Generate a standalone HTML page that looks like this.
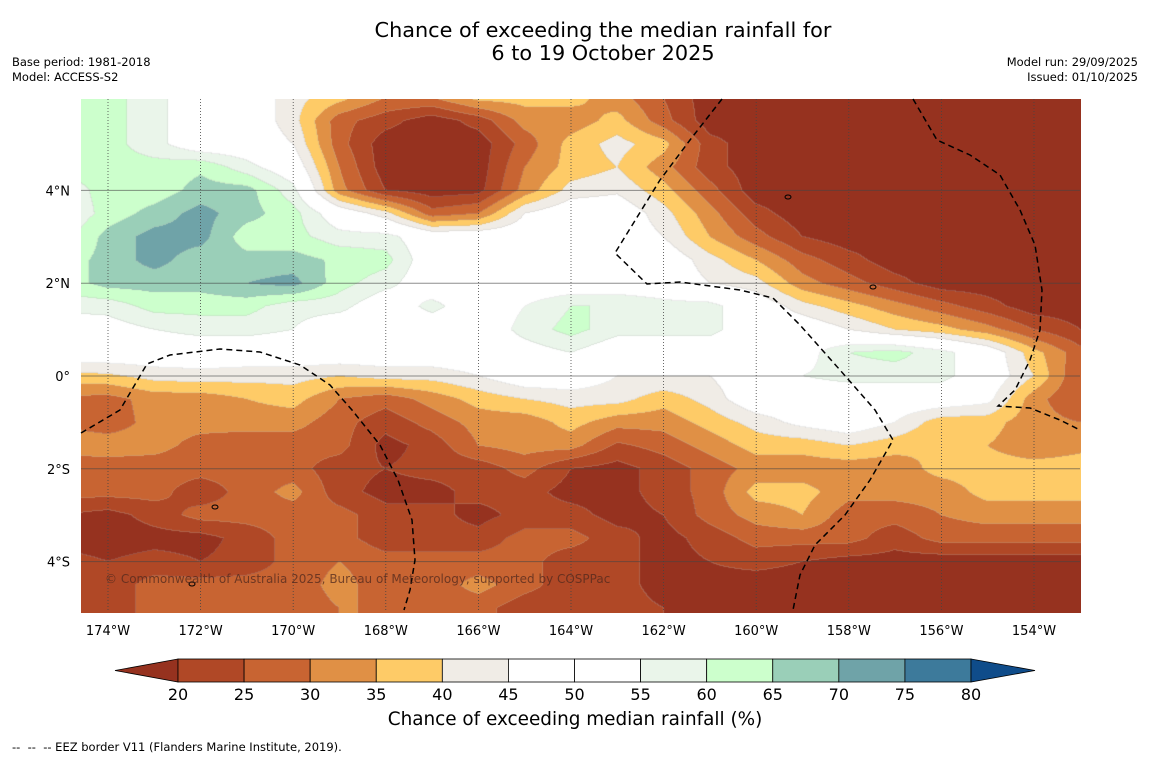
<!DOCTYPE html>
<html><head><meta charset="utf-8">
<style>
body{margin:0;background:#fff;}
#wrap{position:relative;width:1150px;height:758px;background:#fff;overflow:hidden;font-family:"DejaVu Sans","Liberation Sans",sans-serif;color:#000;}
.t{position:absolute;white-space:nowrap;}
</style></head><body>
<div id="wrap">
<div class="t" style="left:0;width:1206px;text-align:center;top:19px;font-size:20.8px;line-height:23px;">Chance of exceeding the median rainfall for<br>6 to 19 October 2025</div>
<div class="t" style="left:12px;top:55px;font-size:11.5px;line-height:15px;">Base period: 1981-2018<br>Model: ACCESS-S2</div>
<div class="t" style="right:12px;top:55px;font-size:11.5px;line-height:15px;text-align:right;">Model run: 29/09/2025<br>Issued: 01/10/2025</div>
<canvas id="map" width="1000" height="514" style="position:absolute;left:81px;top:99px;"></canvas>
<svg id="ov" width="1150" height="758" style="position:absolute;left:0;top:0;"></svg>
<div class="t" style="left:105px;top:572px;font-size:12px;color:rgba(80,40,30,0.75);">© Commonwealth of Australia 2025, Bureau of Meteorology, supported by COSPPac</div>
<div class="t" style="left:0;width:1150px;text-align:center;top:709px;font-size:18.4px;">Chance of exceeding median rainfall (%)</div>
<div class="t" style="left:12px;top:740px;font-size:11.5px;">-- &nbsp;-- &nbsp;-- EEZ border V11 (Flanders Marine Institute, 2019).</div>
</div>
<script>
// Grid data: longitudes, latitudes, values (% chance), per latitude row
const lons = [-175,-174,-173,-172,-171,-170,-169,-168,-167,-166,-165,-164,-163,-162,-161,-160,-159,-158,-157,-156,-155,-154,-153];
const lats = [6,5.5,5,4.5,4,3.5,3,2.5,2,1.5,1,0.5,0,-0.5,-1,-1.5,-2,-2.5,-3,-3.5,-4,-4.5,-5];
const row6n0  = [62,62,57,50,50,42,37,30,30,37,37,37,32,25,17,17,17,17,17,17,17,17,17];
const row5n5  = [62,62,57,50,50,42,27,22,17,22,32,32,37,27,17,17,17,17,17,17,17,17,17];
const row5n0  = [62,62,57,50,50,45,27,17,17,17,27,37,42,37,22,17,17,17,17,17,17,17,17];
const row4n5  = [62,62,62,64,57,50,30,17,17,17,30,37,40,32,22,17,17,17,17,17,17,17,17];
const row4n0  = [57,62,62,67,67,57,32,20,17,18,32,42,44,37,27,17,17,17,17,17,17,17,17];
const row3n5  = [55,62,67,72,67,62,50,42,27,30,45,50,50,42,32,22,17,17,17,17,17,17,17];
const row3n0  = [57,67,72,72,62,62,57,57,50,50,50,50,50,45,35,27,20,17,17,17,17,17,17];
const row2n5  = [62,67,72,67,67,67,64,62,50,50,50,50,50,50,42,35,27,22,17,17,17,17,17];
const row2n0  = [62,67,67,67,70,72,62,57,50,50,50,50,50,50,45,42,32,27,22,17,17,17,17];
const row1n5  = [57,57,62,62,62,57,57,50,57,50,55,60,60,57,57,50,42,37,32,27,22,17,17];
const row1n0  = [50,52,55,57,57,55,50,50,50,50,57,62,57,57,57,50,50,45,40,37,32,25,20];
const row0n5  = [50,50,50,50,50,50,50,50,50,50,52,55,50,50,50,50,52,60,62,57,50,37,27];
const row0    = [38,39,42,43,42,42,40,42,42,45,50,50,45,45,45,50,55,57,57,57,50,40,25];
const row0s5  = [29,28,32,32,35,37,30,27,32,37,40,42,42,37,42,50,50,50,50,50,47,32,25];
const row1s0  = [30,27,32,32,32,32,27,22,27,32,32,37,32,32,37,42,47,50,45,37,37,32,30];
const row1s5  = [32,33,32,28,27,27,27,18,22,30,32,32,24,27,32,37,37,40,37,35,35,32,34];
const row2s0  = [27,27,27,27,27,27,22,20,22,22,27,20,18,22,27,32,32,32,32,37,37,37,37];
const row2s5  = [27,27,27,22,27,32,22,18,18,22,22,18,18,22,27,37,37,32,32,32,37,37,37];
const row3s0  = [20,18,22,27,27,27,27,22,22,18,22,22,18,20,27,32,35,27,27,30,32,32,32];
const row3s5  = [18,17,18,18,22,27,27,22,22,22,27,27,22,18,22,27,27,27,22,27,27,27,27];
const row4s0  = [22,20,22,20,22,27,30,27,27,27,27,22,22,18,20,22,20,18,18,17,17,17,17];
const row4s5  = [24,22,27,27,27,27,32,27,27,32,27,22,22,18,18,17,17,17,17,17,17,17,17];
const row5s0  = [22,22,27,27,27,27,30,30,27,27,22,22,22,20,17,17,17,17,17,17,17,17,17];
const grid = [row6n0,row5n5,row5n0,row4n5,row4n0,row3n5,row3n0,row2n5,row2n0,row1n5,row1n0,row0n5,row0,row0s5,row1s0,row1s5,row2s0,row2s5,row3s0,row3s5,row4s0,row4s5,row5s0];
const levels = [20,25,30,35,40,45,50,55,60,65,70,75,80];
const colors = ['#96321f','#b04826','#c86432','#e09045','#fecb67','#f0ece6','#ffffff','#ffffff','#eaf5ea','#ccffcc','#9acfb8','#6fa3a8','#3d7a9b','#0f4c8a'];
const xTicks = [-174,-172,-170,-168,-166,-164,-162,-160,-158,-156,-154];
const yTicks = [4,2,0,-2,-4];

// axis functions
const X0=81, Y0=99, W=1000, H=514;
function xScale(lon){return 108 + (lon+174)*46.3;}
function yScale(lat){return 376 - lat*46.4;}
function lonAt(px){return -174 + (px-108)/46.3;}
function latAt(py){return (376-py)/46.4;}
function hex(c){return [parseInt(c.slice(1,3),16),parseInt(c.slice(3,5),16),parseInt(c.slice(5,7),16)];}
const rgb = colors.map(hex);
function levelOf(v){let i=0;while(i<levels.length&&v>=levels[i])i++;return i;}
function sample(lon,lat){
  let fi=(lon-lons[0])/(lons[1]-lons[0]); fi=Math.max(0,Math.min(lons.length-1.0001,fi));
  let fj=(lats[0]-lat)/(lats[0]-lats[1]); fj=Math.max(0,Math.min(lats.length-1.0001,fj));
  const i=Math.floor(fi), j=Math.floor(fj), a=fi-i, b=fj-j;
  return grid[j][i]*(1-a)*(1-b)+grid[j][i+1]*a*(1-b)+grid[j+1][i]*(1-a)*b+grid[j+1][i+1]*a*b;
}
const cv=document.getElementById('map'), ctx=cv.getContext('2d');
const img=ctx.createImageData(W,H);
const lv=new Int16Array(W*H);
for(let y=0;y<H;y++){const la=latAt(Y0+y+0.5);for(let x=0;x<W;x++){lv[y*W+x]=levelOf(sample(lonAt(X0+x+0.5),la));}}
function sameCol(a,b){return colors[a]===colors[b];}
for(let y=0;y<H;y++)for(let x=0;x<W;x++){
  const k=y*W+x, l=lv[k]; let c=rgb[l];
  const edge=(x<W-1&&!sameCol(lv[k+1],l))||(y<H-1&&!sameCol(lv[k+W],l));
  const p=k*4;
  if(edge){img.data[p]=c[0]*0.75+180*0.25;img.data[p+1]=c[1]*0.75+180*0.25;img.data[p+2]=c[2]*0.75+180*0.25;}
  else{img.data[p]=c[0];img.data[p+1]=c[1];img.data[p+2]=c[2];}
  img.data[p+3]=255;
}
ctx.putImageData(img,0,0);

const svg=document.getElementById('ov'), NS='http://www.w3.org/2000/svg';
function mk(tag,attrs){const e=document.createElementNS(NS,tag);for(const k in attrs)e.setAttribute(k,attrs[k]);svg.appendChild(e);return e;}
// gridlines
xTicks.forEach(t=>{
  const l=mk('line',{x1:xScale(t),x2:xScale(t),y1:99,y2:612,stroke:'#444','stroke-width':0.8,'stroke-dasharray':'1,2'});
  
  
  const tx=mk('text',{x:xScale(t),y:635,'text-anchor':'middle','font-size':13});
  tx.textContent=Math.abs(t)+'°W';
  
  
});
yTicks.forEach(t=>{
  const l=mk('line',{x1:81,x2:1080,y1:yScale(t),y2:yScale(t),stroke:'#444','stroke-opacity':0.6,'stroke-width':1});
  
  
  const tx=mk('text',{x:70,y:yScale(t)+5,'text-anchor':'end','font-size':13});
  tx.textContent=t===0?'0°':Math.abs(t)+'°'+(t>0?'N':'S');
  
  
});
// EEZ borders
const eez=[
 [[81,433],[120,410],[147,364],[170,355],[220,349],[260,352],[300,365],[330,385],[352,410],[380,445],[398,480],[412,520],[415,560],[410,590],[404,610]],
 [[722,99],[690,140],[660,180],[615,253],[647,284],[680,282],[740,290],[773,298],[800,325],[840,370],[875,410],[893,440],[870,480],[845,515],[815,545],[800,575],[793,610]],
 [[913,99],[937,140],[970,155],[1000,175],[1020,210],[1035,245],[1042,290],[1040,330],[1030,360],[1015,390],[998,406],[1030,408],[1060,420],[1080,430]]
];
eez.forEach(pts=>{
  const p=mk('polyline',{points:pts.map(q=>q.join(',')).join(' '),fill:'none',stroke:'#000','stroke-width':1.5,'stroke-dasharray':'6,4'});
  
  
});
// islands
[[788,197],[873,287],[215,507],[192,584]].forEach(q=>{
  const e=mk('ellipse',{cx:q[0],cy:q[1],rx:3,ry:2,fill:'none',stroke:'#000','stroke-width':1});
  
  
});
// colorbar
const cbL=178, cbR=971, cbT=659, cbB=682, bw=(cbR-cbL)/(levels.length-1);
const tl=mk('polygon',{points:`${cbL},${cbT} 115,${(cbT+cbB)/2} ${cbL},${cbB}`,fill:colors[0],stroke:'#000','stroke-width':0.8});


for(let i=0;i<levels.length-1;i++){
  const r=mk('rect',{x:cbL+i*bw,y:cbT,width:bw,height:cbB-cbT,fill:colors[i+1],stroke:'#000','stroke-width':0.8});
  
  
}
const tr=mk('polygon',{points:`${cbR},${cbT} 1035,${(cbT+cbB)/2} ${cbR},${cbB}`,fill:colors[colors.length-1],stroke:'#000','stroke-width':0.8});


levels.forEach((v,i)=>{
  const t=mk('text',{x:cbL+i*bw,y:700,'text-anchor':'middle','font-size':16});
  t.textContent=v;
  
  
});
</script>
</body></html>
